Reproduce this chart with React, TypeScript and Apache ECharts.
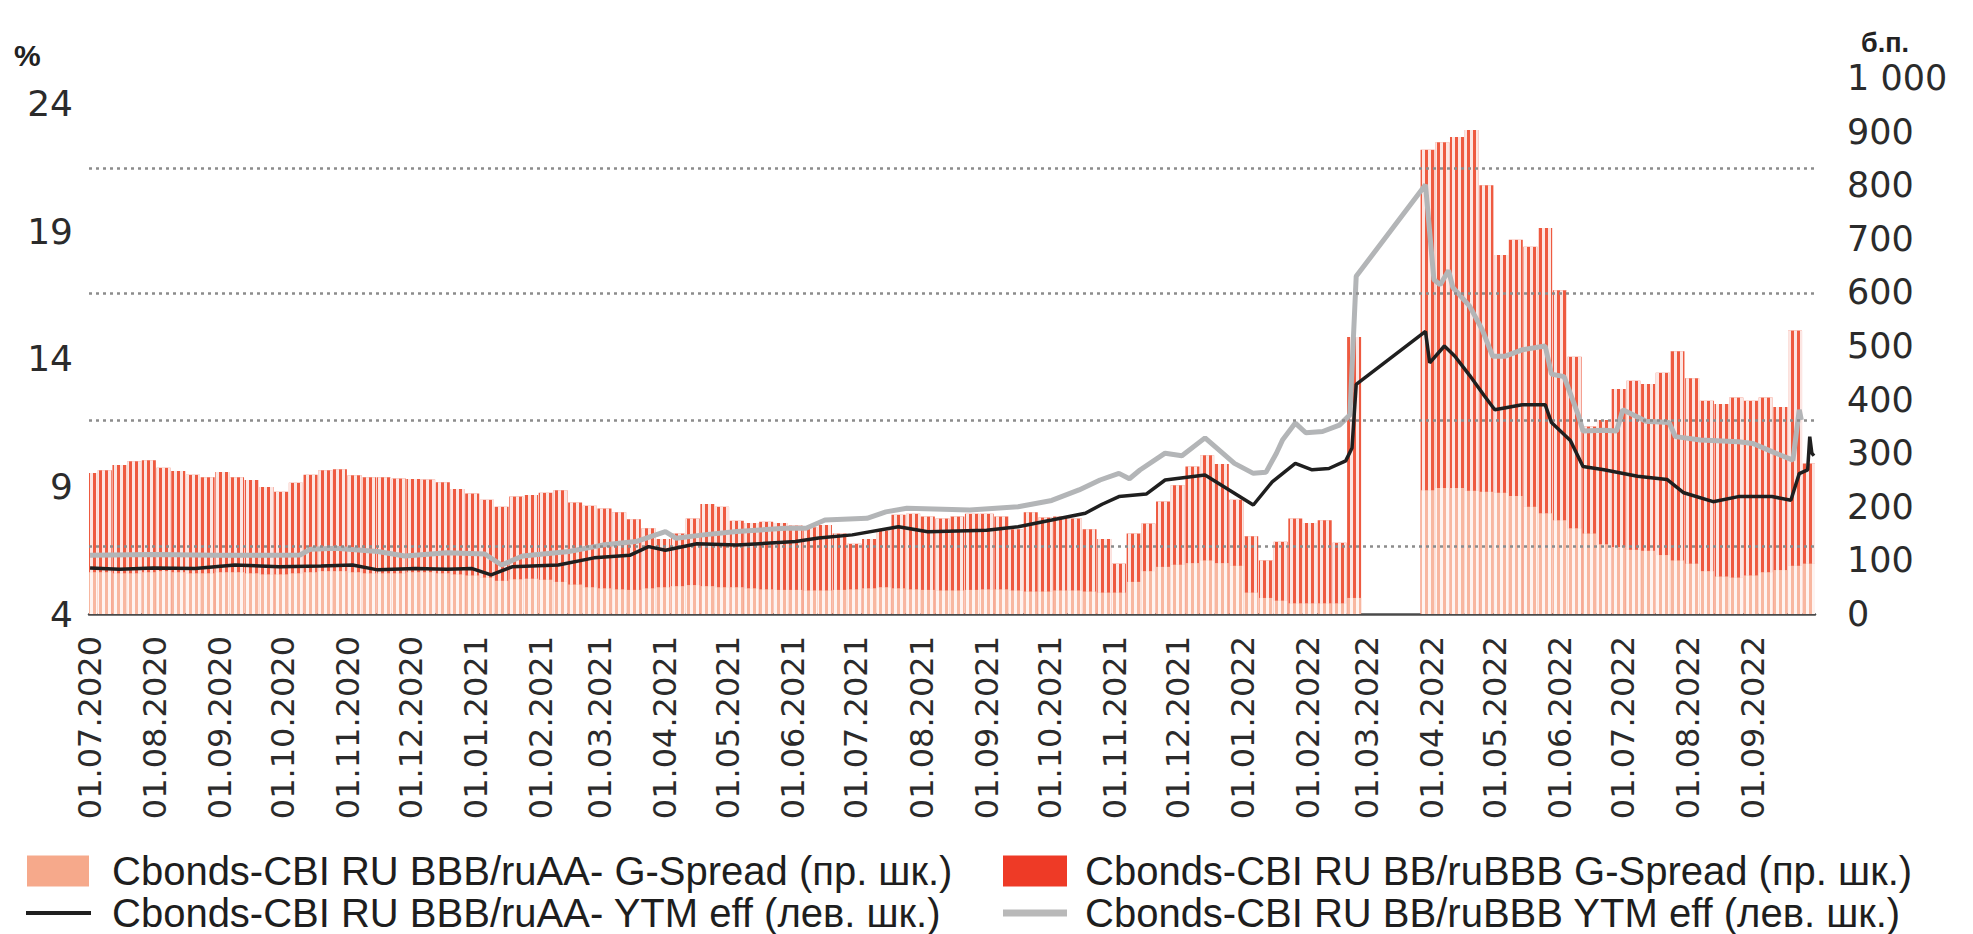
import React, { useEffect, useRef } from "react";
import * as echarts from "echarts";

// ---------- categories: daily calendar 01.07.2020 – 30.09.2022 ----------
const START_UTC = Date.UTC(2020, 6, 1);
const DAY_COUNT = 822;
const pad2 = (n: number) => String(n).padStart(2, "0");
const dayLabels: string[] = Array.from({ length: DAY_COUNT }, (_, i) => {
  const d = new Date(START_UTC + i * 86400000);
  return `${pad2(d.getUTCDate())}.${pad2(d.getUTCMonth() + 1)}.${d.getUTCFullYear()}`;
});
const isMonthStart = (_i: number, v: string) => typeof v === "string" && v.startsWith("01.");

// ---------- spreads, б.п. (weekly readings, every 7th day from 01.07.2020) ----------
const SPREAD_STEP_DAYS = 7;
const bbSpread: (number | null)[] = [
  263, 268, 278, 285, 287, 273, 267, 260, 255, 265,
  255, 250, 237, 228, 245, 260, 268, 270, 259, 255,
  255, 253, 252, 251, 246, 233, 225, 213, 200, 219,
  222, 226, 231, 208, 202, 197, 190, 177, 160, 140,
  150, 178, 205, 200, 174, 170, 172, 170, 165, 162,
  166, 150, 131, 140, 156, 185, 187, 182, 178, 182,
  187, 187, 182, 158, 190, 180, 182, 178, 158, 140,
  94, 150, 169, 210, 240, 275, 296, 280, 213, 145,
  100, 135, 178, 170, 175, 133, 517, null, null, null,
  null, 866, 880, 890, 903, 800, 670, 698, 685, 720,
  604, 480, 350, 362, 420, 435, 429, 450, 490, 440,
  398, 392, 404, 398, 404, 386, 529, 281,
];
const bbbSpread: (number | null)[] = [
  78, 78, 76, 76, 78, 80, 78, 76, 76, 78,
  78, 76, 74, 74, 76, 78, 80, 80, 78, 76,
  76, 76, 78, 78, 76, 74, 72, 68, 62, 65,
  66, 64, 60, 55, 50, 48, 46, 45, 48, 50,
  52, 54, 52, 50, 50, 48, 46, 45, 45, 44,
  44, 45, 46, 48, 50, 48, 46, 45, 44, 44,
  45, 46, 46, 44, 42, 42, 44, 44, 42, 40,
  40, 60, 80, 88, 92, 95, 100, 95, 90, 40,
  30, 25, 20, 20, 20, 20, 30, null, null, null,
  null, 231, 235, 235, 230, 228, 226, 220, 200, 188,
  175, 160, 150, 130, 125, 120, 118, 110, 100, 94,
  80, 70, 68, 72, 78, 82, 90, 94,
];

// ---------- YTM eff, % ----------
const bbbYtmDates = [
  "01.07.2020", "15.07.2020", "31.07.2020", "20.08.2020", "08.09.2020", "29.09.2020", "19.10.2020", "03.11.2020",
  "15.11.2020", "03.12.2020", "18.12.2020", "30.12.2020", "08.01.2021", "18.01.2021", "09.02.2021", "26.02.2021",
  "15.03.2021", "24.03.2021", "01.04.2021", "16.04.2021", "05.05.2021", "02.06.2021", "13.06.2021", "29.06.2021",
  "21.07.2021", "04.08.2021", "01.09.2021", "16.09.2021", "02.10.2021", "18.10.2021", "26.10.2021", "03.11.2021",
  "16.11.2021", "25.11.2021", "14.12.2021", "06.01.2022", "15.01.2022", "26.01.2022", "03.02.2022", "11.02.2022",
  "19.02.2022", "22.02.2022", "24.02.2022", "29.03.2022", "31.03.2022", "07.04.2022", "12.04.2022", "19.04.2022",
  "26.04.2022", "01.05.2022", "14.05.2022", "25.05.2022", "28.05.2022", "06.06.2022", "12.06.2022", "22.06.2022",
  "08.07.2022", "22.07.2022", "30.07.2022", "13.08.2022", "25.08.2022", "10.09.2022", "19.09.2022", "23.09.2022",
  "27.09.2022", "28.09.2022", "29.09.2022", "30.09.2022",
];
const bbbYtm = [
  5.8, 5.75, 5.8, 5.78, 5.92, 5.85, 5.88, 5.92,
  5.73, 5.78, 5.75, 5.78, 5.53, 5.85, 5.92, 6.2,
  6.3, 6.64, 6.5, 6.75, 6.7, 6.84, 6.98, 7.1,
  7.42, 7.22, 7.28, 7.42, 7.68, 7.95, 8.3, 8.6,
  8.7, 9.25, 9.45, 8.27, 9.18, 9.9, 9.65, 9.7,
  10.0, 10.5, 13.0, 15.07, 13.84, 14.5, 14.1, 13.35,
  12.55, 12.0, 12.2, 12.2, 11.5, 10.8, 9.78, 9.65,
  9.4, 9.27, 8.75, 8.4, 8.6, 8.6, 8.46, 9.5,
  9.65, 10.95, 10.3, 10.2,
];

const bbYtmDates = [
  "01.07.2020", "31.07.2020", "30.08.2020", "24.09.2020", "09.10.2020", "14.10.2020", "26.10.2020", "15.11.2020",
  "28.11.2020", "18.12.2020", "05.01.2021", "13.01.2021", "23.01.2021", "14.02.2021", "02.03.2021", "18.03.2021",
  "01.04.2021", "06.04.2021", "19.04.2021", "05.05.2021", "28.05.2021", "07.06.2021", "16.06.2021", "06.07.2021",
  "15.07.2021", "25.07.2021", "24.08.2021", "16.09.2021", "02.10.2021", "15.10.2021", "25.10.2021", "03.11.2021",
  "08.11.2021", "13.11.2021", "25.11.2021", "03.12.2021", "14.12.2021", "28.12.2021", "06.01.2022", "12.01.2022",
  "17.01.2022", "20.01.2022", "26.01.2022", "31.01.2022", "08.02.2022", "16.02.2022", "21.02.2022", "24.02.2022",
  "29.03.2022", "02.04.2022", "05.04.2022", "09.04.2022", "11.04.2022", "19.04.2022", "25.04.2022", "30.04.2022",
  "06.05.2022", "14.05.2022", "25.05.2022", "28.05.2022", "03.06.2022", "10.06.2022", "12.06.2022", "22.06.2022",
  "28.06.2022", "01.07.2022", "12.07.2022", "23.07.2022", "26.07.2022", "07.08.2022", "25.08.2022", "01.09.2022",
  "10.09.2022", "20.09.2022", "23.09.2022", "24.09.2022",
];
const bbYtm = [
  6.3, 6.33, 6.3, 6.3, 6.31, 6.54, 6.58, 6.45,
  6.27, 6.4, 6.35, 5.92, 6.27, 6.45, 6.7, 6.84,
  7.23, 6.97, 7.1, 7.23, 7.36, 7.36, 7.68, 7.75,
  8.0, 8.14, 8.07, 8.2, 8.45, 8.86, 9.25, 9.51,
  9.3, 9.64, 10.3, 10.2, 10.9, 9.9, 9.51, 9.55,
  10.3, 10.83, 11.48, 11.1, 11.15, 11.4, 11.8, 17.23,
  20.82, 17.1, 16.9, 17.46, 16.8, 16.06, 15.14, 14.1,
  14.1, 14.35, 14.5, 13.4, 13.3, 11.74, 11.17, 11.2,
  11.17, 12.0, 11.55, 11.5, 10.95, 10.82, 10.75, 10.68,
  10.36, 10.03, 12.0, 11.6,
];

// dotted reference lines (left-axis units)
const gridLevels = [6.66, 11.6, 16.55, 21.48];

const leftTicks = { min: 4, max: 25, interval: 5 };
const rightTicks = { min: 0, max: 1000, interval: 100 };

const NAME_BBB_SPREAD = "Cbonds-CBI RU BBB/ruAA- G-Spread (пр. шк.)";
const NAME_BB_SPREAD = "Cbonds-CBI RU BB/ruBBB G-Spread (пр. шк.)";
const NAME_BBB_YTM = "Cbonds-CBI RU BBB/ruAA- YTM eff (лев. шк.)";
const NAME_BB_YTM = "Cbonds-CBI RU BB/ruBBB YTM eff (лев. шк.)";

const toWeekly = (arr: (number | null)[]) =>
  arr.map((v, k) => [k * SPREAD_STEP_DAYS, v]).filter((p) => p[1] !== null);
const toDaily = (dates: string[], vals: number[]) =>
  dates.map((d, i) => [dayLabels.indexOf(d), vals[i]]);

const AX_FONT = "DejaVu Sans";
const LEG_FONT = "Liberation Sans";

const stripeDecal = {
  symbol: "rect",
  symbolSize: 1,
  color: "rgba(255,255,255,0.85)",
  dashArrayX: [2.5, 2.5],
  dashArrayY: [4, 0],
  rotation: 0,
};

function buildOption() {
  const legendText = (padLeft: number) => ({
    fontFamily: LEG_FONT,
    fontSize: 40,
    lineHeight: 44,
    color: "#1e1e1e",
    padding: [0, 0, 0, padLeft],
  });
  return {
    animation: false,
    backgroundColor: "#ffffff",
    grid: { left: 89, right: 158, top: 78, bottom: 320, containLabel: false },
    graphic: [
      { type: "text", left: 14, top: 40, style: { text: "%", font: 'bold 30px "Liberation Sans"', fill: "#222", lineHeight: 28 } },
      { type: "text", left: 1861, top: 29, style: { text: "б.п.", font: 'bold 27px "Liberation Sans"', fill: "#222", lineHeight: 24 } },
    ],
    legend: [
      {
        left: 27, top: 849, padding: 0, itemWidth: 62, itemHeight: 31, selectedMode: false,
        data: [{ name: NAME_BBB_SPREAD, icon: "rect", itemStyle: { color: "#f6a98b", decal: "none" } }],
        textStyle: legendText(18),
      },
      {
        left: 1003, top: 849, padding: 0, itemWidth: 64, itemHeight: 31, selectedMode: false,
        data: [{ name: NAME_BB_SPREAD, icon: "rect", itemStyle: { color: "#ee3a26", decal: "none" } }],
        textStyle: legendText(13),
      },
      {
        left: 26, top: 891, padding: 0, itemWidth: 65, itemHeight: 4, selectedMode: false,
        data: [{ name: NAME_BBB_YTM, icon: "rect", itemStyle: { color: "#1f1f1f" } }],
        textStyle: legendText(16),
      },
      {
        left: 1003, top: 891, padding: 0, itemWidth: 64, itemHeight: 7, selectedMode: false,
        data: [{ name: NAME_BB_YTM, icon: "rect", itemStyle: { color: "#b9b9b9" } }],
        textStyle: legendText(13),
      },
    ],
    xAxis: {
      type: "category",
      data: dayLabels,
      boundaryGap: true,
      axisLine: { lineStyle: { color: "#4a4a4a", width: 2.5 } },
      axisTick: { interval: isMonthStart, length: 9, lineStyle: { color: "#4a4a4a", width: 2.5 } },
      axisLabel: {
        interval: isMonthStart,
        rotate: 90,
        margin: 22,
        fontFamily: AX_FONT,
        fontSize: 32,
        color: "#2b2b2b",
      },
      splitLine: { show: false },
    },
    yAxis: [
      {
        type: "value",
        position: "left",
        ...leftTicks,
        axisLine: { show: false },
        axisTick: { show: false },
        splitLine: { show: false },
        axisLabel: {
          formatter: (v: number) => (v > 24 ? "" : String(v)),
          margin: 16,
          fontFamily: AX_FONT,
          fontSize: 36,
          lineHeight: 28,
          color: "#2b2b2b",
        },
      },
      {
        type: "value",
        position: "right",
        ...rightTicks,
        axisLine: { show: false },
        axisTick: { show: false },
        splitLine: { show: false },
        axisLabel: {
          formatter: (v: number) => (v === 1000 ? "1 000" : String(v)),
          margin: 32,
          fontFamily: AX_FONT,
          fontSize: 35,
          lineHeight: 28,
          color: "#2b2b2b",
        },
      },
    ],
    series: [
      {
        name: NAME_BB_SPREAD,
        type: "bar",
        yAxisIndex: 1,
        data: toWeekly(bbSpread),
        barWidth: 14,
        barGap: "-100%",
        itemStyle: { color: "#ee5a40", decal: stripeDecal },
        z: 2,
      },
      {
        name: NAME_BBB_SPREAD,
        type: "bar",
        yAxisIndex: 1,
        data: toWeekly(bbbSpread),
        barWidth: 14,
        barGap: "-100%",
        itemStyle: { color: "#f8b7a0", decal: stripeDecal },
        z: 2,
      },
      {
        name: "grid-lines",
        type: "line",
        yAxisIndex: 0,
        data: [],
        z: 3,
        silent: true,
        markLine: {
          silent: true,
          symbol: ["none", "none"],
          label: { show: false },
          lineStyle: { type: [3, 4], color: "#8c8c8c", width: 2.5 },
          data: gridLevels.map((v) => ({ yAxis: v })),
        },
      },
      {
        name: NAME_BB_YTM,
        type: "line",
        yAxisIndex: 0,
        data: toDaily(bbYtmDates, bbYtm),
        showSymbol: false,
        lineStyle: { color: "#b3b5b7", width: 5 },
        itemStyle: { color: "#b3b5b7" },
        z: 4,
      },
      {
        name: NAME_BBB_YTM,
        type: "line",
        yAxisIndex: 0,
        data: toDaily(bbbYtmDates, bbbYtm),
        showSymbol: false,
        lineStyle: { color: "#1f1f1f", width: 3.5 },
        itemStyle: { color: "#1f1f1f" },
        z: 5,
      },
    ],
  };
}

export default function App() {
  const ref = useRef<HTMLDivElement>(null);
  useEffect(() => {
    if (!ref.current) return;
    const chart = echarts.init(ref.current, null, { renderer: "svg" });
    chart.setOption(buildOption() as any);
    return () => chart.dispose();
  }, []);
  return (
    <div
      ref={ref}
      style={{ position: "fixed", left: 0, top: 0, width: 1973, height: 934, background: "#ffffff" }}
    />
  );
}
